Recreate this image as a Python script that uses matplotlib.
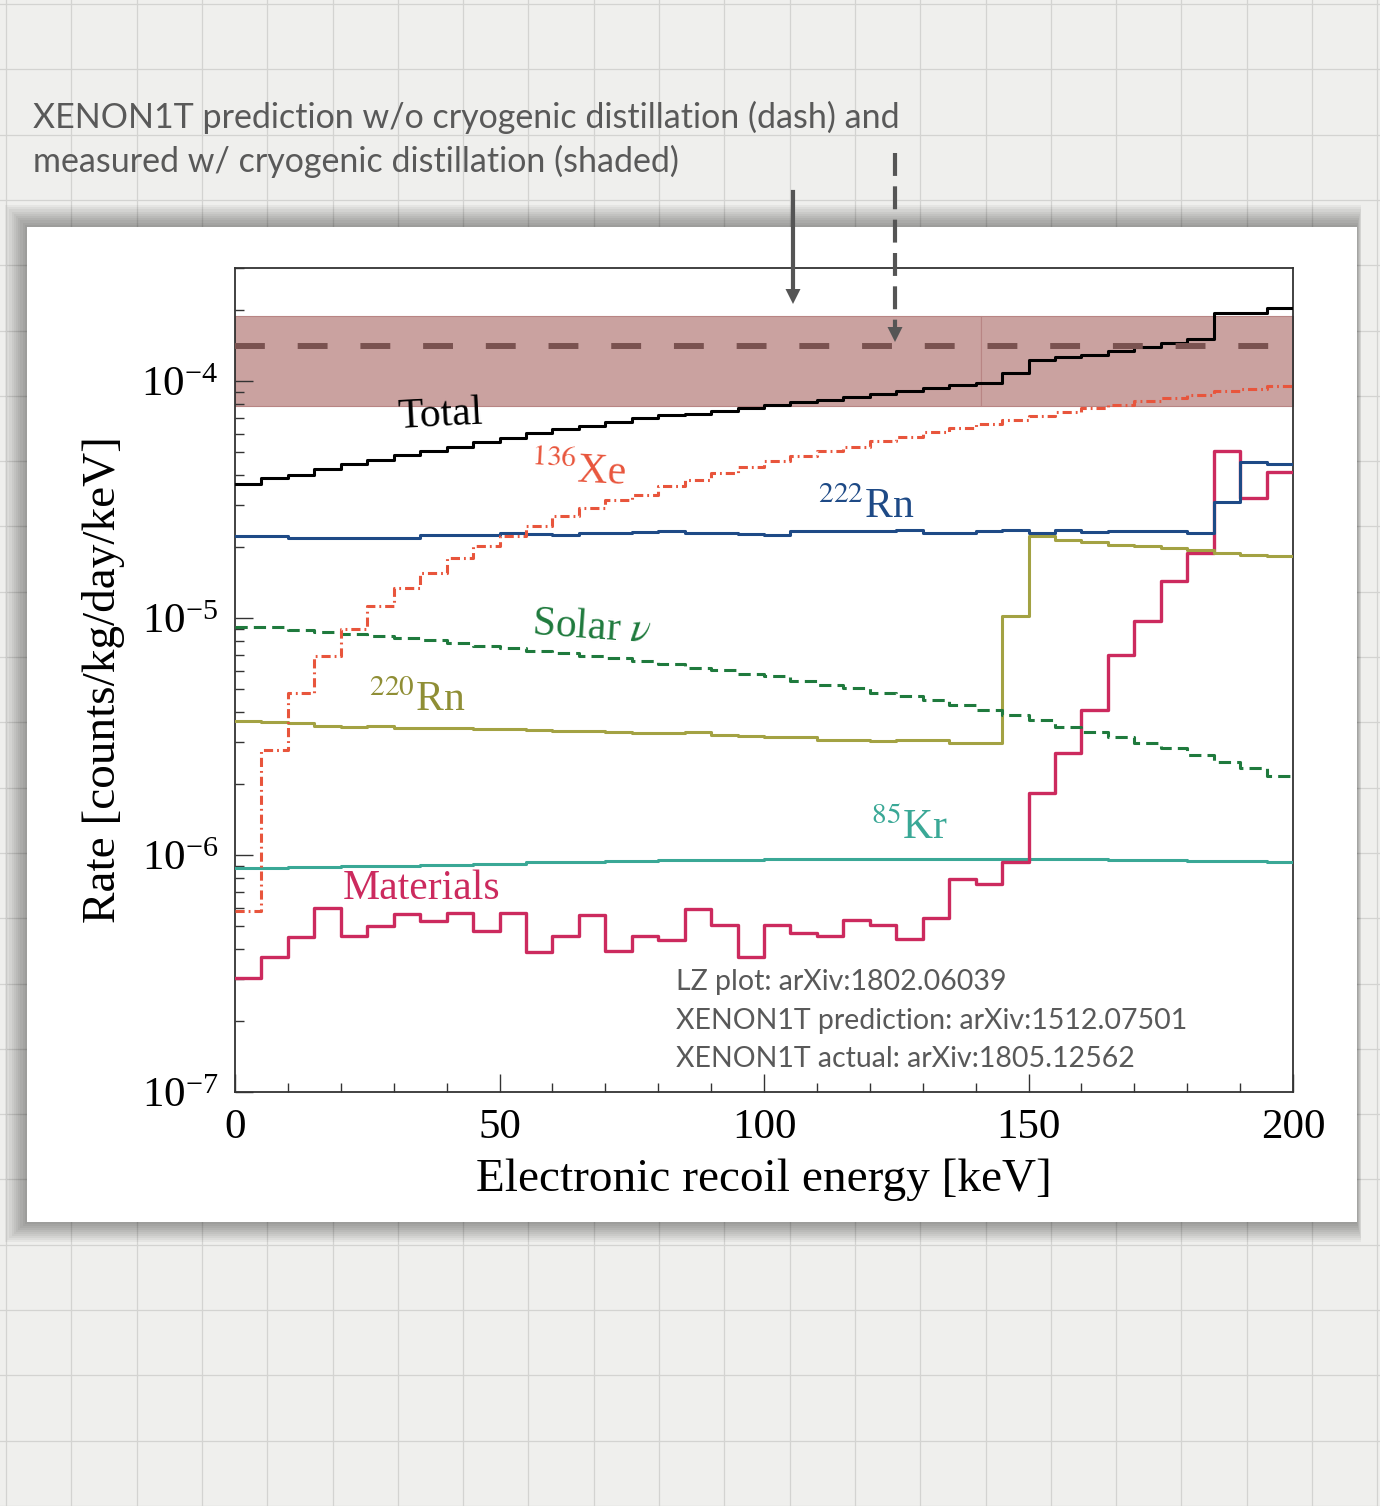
import numpy as np
import matplotlib.pyplot as plt
from matplotlib.patches import Rectangle
from matplotlib.lines import Line2D

plt.rcParams['font.family'] = ['Liberation Serif', 'DejaVu Serif']
plt.rcParams['mathtext.fontset'] = 'stix'

# 5 keV bins from 0 to 200 keV
edges = np.arange(0, 205, 5)

total = np.array([3.69, 3.91, 4.03, 4.27, 4.48, 4.66, 4.89, 5.09, 5.29, 5.55,
                  5.77, 6.06, 6.30, 6.49, 6.75, 7.01, 7.22, 7.29, 7.46, 7.73,
                  7.90, 8.19, 8.35, 8.60, 8.86, 9.12, 9.39, 9.66, 9.86, 10.86,
                  12.33, 12.6, 12.94, 13.45, 13.99, 14.54, 15.12, 19.3, 19.3, 20.4]) * 1e-5
xe136 = np.array([0.0582, 0.278, 0.482, 0.693, 0.901, 1.12, 1.342, 1.554, 1.797, 2.006,
                  2.226, 2.437, 2.686, 2.923, 3.16, 3.32, 3.59, 3.84, 4.11, 4.35,
                  4.58, 4.81, 5.05, 5.25, 5.57, 5.83, 6.08, 6.36, 6.61, 6.88,
                  7.10, 7.38, 7.70, 7.96, 8.22, 8.52, 8.77, 9.06, 9.30, 9.51]) * 1e-5
rn222 = np.array([2.23, 2.23, 2.18, 2.18, 2.18, 2.18, 2.18, 2.24, 2.24, 2.25,
                  2.29, 2.27, 2.25, 2.29, 2.29, 2.31, 2.34, 2.29, 2.29, 2.27,
                  2.25, 2.34, 2.32, 2.32, 2.34, 2.36, 2.29, 2.29, 2.32, 2.36,
                  2.29, 2.36, 2.30, 2.34, 2.32, 2.34, 2.29, 3.08, 4.54, 4.48]) * 1e-5
solar = np.array([9.21, 9.16, 8.93, 8.73, 8.56, 8.42, 8.23, 8.04, 7.84, 7.64,
                  7.47, 7.28, 7.11, 6.93, 6.78, 6.60, 6.41, 6.15, 6.05, 5.82,
                  5.67, 5.40, 5.23, 5.06, 4.82, 4.67, 4.52, 4.30, 4.10, 3.91,
                  3.72, 3.48, 3.32, 3.15, 2.98, 2.82, 2.65, 2.48, 2.33, 2.16]) * 1e-6
rn220 = np.array([3.66, 3.65, 3.60, 3.52, 3.47, 3.51, 3.45, 3.45, 3.45, 3.40,
                  3.40, 3.38, 3.34, 3.34, 3.32, 3.27, 3.28, 3.29, 3.22, 3.19,
                  3.15, 3.14, 3.06, 3.06, 3.03, 3.06, 3.06, 2.97, 2.97, 10.23,
                  22.1, 21.4, 20.9, 20.4, 20.06, 19.75, 19.3, 18.9, 18.5, 18.2]) * 1e-6
kr85 = np.array([8.8, 8.8, 8.9, 8.9, 9.0, 9.0, 9.0, 9.1, 9.1, 9.2,
                 9.2, 9.3, 9.3, 9.3, 9.4, 9.4, 9.5, 9.5, 9.5, 9.5,
                 9.6, 9.6, 9.6, 9.6, 9.6, 9.6, 9.6, 9.6, 9.6, 9.6,
                 9.6, 9.6, 9.6, 9.5, 9.5, 9.5, 9.4, 9.4, 9.4, 9.3]) * 1e-7
materials = np.array([3.02, 3.70, 4.52, 5.96, 4.55, 5.02, 5.64, 5.27, 5.68, 4.78,
                      5.71, 3.89, 4.55, 5.58, 3.94, 4.57, 4.38, 5.92, 5.07, 3.72,
                      5.07, 4.68, 4.55, 5.32, 5.07, 4.41, 5.44, 7.90, 7.55, 9.38,
                      18.2, 26.9, 41.0, 70.0, 96.7, 142.8, 188, 505, 321, 414]) * 1e-7

# XENON1T: measured band (shaded) and prediction w/o distillation (dashed)
band_lo, band_hi = 7.88e-5, 1.873e-4
band_seam = 141
xenon_pred = 1.41e-4

labels = ['Total', r'$^{136}$Xe', r'$^{222}$Rn', r'Solar $\nu$', r'$^{220}$Rn', r'$^{85}$Kr', 'Materials']
label_x = [38.8, 64.8, 119.3, 67.3, 34.4, 127.6, 35.3]
label_y = [7.15e-5, 4.15e-5, 2.92e-5, 9.1e-6, 4.48e-6, 1.30e-6, 7.19e-7]
label_rot = [3, -3, 0, -4, 0, 0, 0]

refs = ['LZ plot: arXiv:1802.06039',
        'XENON1T prediction: arXiv:1512.07501',
        'XENON1T actual: arXiv:1805.12562']

W, H = 1380, 1506
fig = plt.figure(figsize=(W / 100, H / 100), dpi=100)
fig.patch.set_facecolor('#efefed')

def fx(px):
    return px / W

def fy(py):
    return 1 - py / H

# grid paper
for gx in np.arange(6, W, 65.3):
    fig.add_artist(Line2D([fx(gx), fx(gx)], [0, 1], color='#d3d3d1', lw=0.9, zorder=0))
for gy in np.arange(4, H, 65.3):
    fig.add_artist(Line2D([0, 1], [fy(gy), fy(gy)], color='#d3d3d1', lw=0.9, zorder=0))

# card with soft shadow
cl, cr, ct, cb = 27, 1357, 227, 1222
for i in range(10, 0, -1):
    d = 2.2 * i
    fig.add_artist(Rectangle((fx(cl - d), fy(cb + d * 0.9)), fx(cr - cl + 2 * d * 0.6), (cb - ct + 1.9 * d) / H,
                             facecolor='black', alpha=0.04, lw=0, zorder=1))
fig.add_artist(Rectangle((fx(cl), fy(cb)), fx(cr - cl), (cb - ct) / H,
                         facecolor='white', lw=0, zorder=2))

ax = fig.add_axes([fx(235), fy(1092), fx(1293 - 235), (1092 - 268) / H])
ax.set_zorder(3)
ax.set_facecolor('none')

# band drawn as two pieces, like the pasted overlay
ax.fill_between([0, band_seam], band_lo, band_hi, facecolor='#caa2a0', edgecolor='#b88584', lw=0.8, zorder=1)
ax.fill_between([band_seam, 200], band_lo, band_hi, facecolor='#caa2a0', edgecolor='#b88584', lw=0.8, zorder=1)

def stepline(vals, **kw):
    ax.step(edges, np.append(vals, vals[-1]), where='post', **kw)

stepline(kr85, color='#3aa896', lw=2.2, zorder=3)
stepline(materials, color='#cc2a5e', lw=2.4, zorder=3)
stepline(rn220, color='#a3a243', lw=2.2, zorder=3)
stepline(solar, color='#1f7a3d', lw=2.2, ls=(0, (4, 2)), zorder=3)
stepline(rn222, color='#1e4a86', lw=2.2, zorder=3)
stepline(xe136, color='#e8553c', lw=2.2, ls=(0, (3, 1.3, 0.6, 1.3)), zorder=3)
stepline(total, color='black', lw=2.2, zorder=4)

ax.axhline(xenon_pred, color='#7a5250', lw=4.3, ls=(0, (5, 5.5)), zorder=5)

label_colors = ['black', '#e8553c', '#1e4a86', '#1f7a3d', '#8f8e35', '#3aa896', '#cc2a5e']
for t, x, y, r, c in zip(labels, label_x, label_y, label_rot, label_colors):
    ax.text(x, y, t, color=c, fontsize=30, rotation=r, ha='center', va='center', zorder=6)

ax.set_xlim(0, 200)
ax.set_yscale('log')
ax.set_ylim(1e-7, 3.0e-4)
ax.set_xticks([0, 50, 100, 150, 200])
ax.set_xticks(np.arange(0, 201, 10), minor=True)
ax.tick_params(which='both', direction='in', top=False, right=False, labelsize=31, pad=12, width=1.0, color='#333333')
ax.tick_params(which='major', length=13)
ax.tick_params(which='minor', length=6.5)
for s in ax.spines.values():
    s.set_color('#333333')
    s.set_linewidth(1.3)

ax.set_xlabel('Electronic recoil energy [keV]', fontsize=34, labelpad=8)
ax.set_ylabel('Rate [counts/kg/day/keV]', fontsize=34, labelpad=12)

# slide annotations
grey = '#595959'
fig.text(fx(33), fy(117), 'XENON1T prediction w/o cryogenic distillation (dash) and',
         family='Lato', fontsize=24.5, color=grey, va='center', ha='left')
fig.text(fx(33), fy(161), 'measured w/ cryogenic distillation (shaded)',
         family='Lato', fontsize=24.5, color=grey, va='center', ha='left')
for i, r in enumerate(refs):
    fig.text(fx(676), fy(982 + 38.5 * i), r, family='Lato', fontsize=20.5, color=grey,
             va='center', ha='left', zorder=10)

# arrows pointing at the band and the dashed line
arrow_c = '#555555'
fig.add_artist(Line2D([fx(793), fx(793)], [fy(192), fy(292)], color=arrow_c, lw=3, zorder=10))
fig.add_artist(Line2D([fx(895), fx(895)], [fy(153), fy(327)], color=arrow_c, lw=3,
                      ls=(0, (5.5, 2.5)), zorder=10))
for xa, y0, y1 in [(793, 285, 304), (895, 322, 342)]:
    fig.add_artist(plt.Polygon([[fx(xa - 7.5), fy(y1 - 15)], [fx(xa + 7.5), fy(y1 - 15)], [fx(xa), fy(y1)]],
                               closed=True, color=arrow_c, lw=0, zorder=10))

fig.savefig('out.png', dpi=100, facecolor=fig.get_facecolor())
